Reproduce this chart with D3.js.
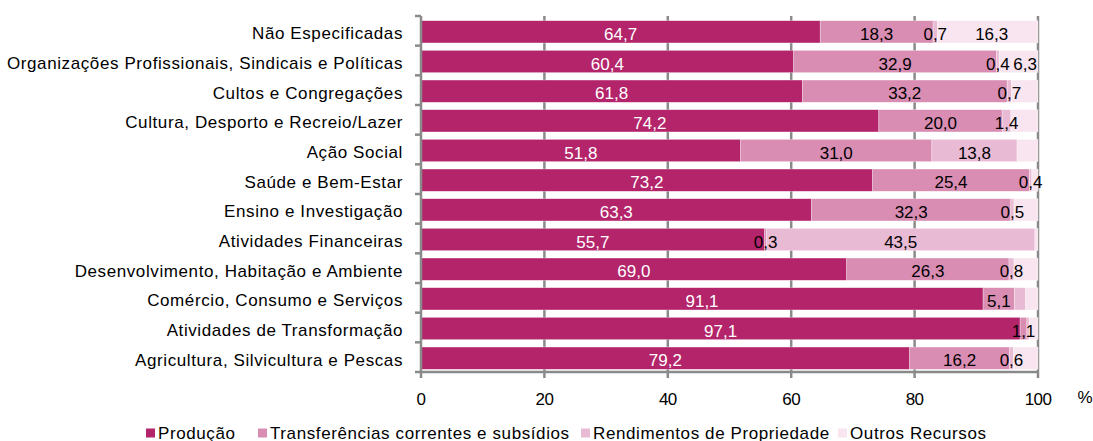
<!DOCTYPE html>
<html>
<head>
<meta charset="utf-8">
<script src="https://cdn.jsdelivr.net/npm/d3@7"></script>
<style>
  html, body { margin: 0; padding: 0; background: #fff; }
  svg { display: block; font-family: "Liberation Sans", Arial, sans-serif; }
</style>
</head>
<body>
<svg id="chart" width="1093" height="441"></svg>
<script>
const categories = [
  "Não Especificadas",
  "Organizações Profissionais, Sindicais e Políticas",
  "Cultos e Congregações",
  "Cultura, Desporto e Recreio/Lazer",
  "Ação Social",
  "Saúde e Bem-Estar",
  "Ensino e Investigação",
  "Atividades Financeiras",
  "Desenvolvimento, Habitação e Ambiente",
  "Comércio, Consumo e Serviços",
  "Atividades de Transformação",
  "Agricultura, Silvicultura e Pescas"
];
const seriesNames = ["Produção", "Transferências correntes e subsídios", "Rendimentos de Propriedade", "Outros Recursos"];
const producao       = [64.7, 60.4, 61.8, 74.2, 51.8, 73.2, 63.3, 55.7, 69.0, 91.1, 97.1, 79.2];
const transferencias = [18.3, 32.9, 33.2, 20.0, 31.0, 25.4, 32.3,  0.3, 26.3,  5.1,  1.1, 16.2];
const rendimentos    = [ 0.7,  0.4,  0.7,  1.4, 13.8,  0.4,  0.5, 43.5,  0.8,  1.8,  0.4,  0.6];
const outros         = [16.3,  6.3,  4.3,  4.4,  3.4,  1.0,  3.9,  0.5,  3.9,  2.0,  1.4,  4.0];
// which value labels are shown (others hidden as in the original)
const showProducao       = [1,1,1,1,1,1,1,1,1,1,1,1];
const showTransferencias = [1,1,1,1,1,1,1,1,1,1,1,1];
const showRendimentos    = [1,1,1,1,1,1,1,1,1,0,0,1];
const showOutros         = [1,1,0,0,0,0,0,0,0,0,0,0];
const xTicks = [0, 20, 40, 60, 80, 100];
const colors = ["#B3246B", "#D98DB3", "#E9BAD3", "#F8E5EF"];

const seriesValues = [producao, transferencias, rendimentos, outros];
const seriesShow = [showProducao, showTransferencias, showRendimentos, showOutros];
const labelColors = ["#ffffff", "#000000", "#000000", "#000000"];
// small horizontal nudges of crowded labels (series index, row index) -> px
const labelNudge = { "3-1": 6.5, "3-0": 4 };

const svg = d3.select("#chart");
const mLeft = 421, mRight = 1038, mTop = 16, mBottom = 372;
const fmt = v => v.toFixed(1).replace(".", ",");

const x = d3.scaleLinear().domain([0, 100]).range([mLeft, mRight]);
const y = d3.scaleBand().domain(categories).range([mTop + 1, mBottom + 1]).paddingInner(0.25).paddingOuter(0.125);

const axisColor = "#8a8a8a";

// gridlines
svg.append("g").selectAll("line").data(xTicks.slice(1)).join("line")
  .attr("x1", d => x(d)).attr("x2", d => x(d))
  .attr("y1", mTop).attr("y2", mBottom)
  .attr("stroke", axisColor).attr("stroke-width", 2.5);

// stacked data
const table = categories.map((c, i) => {
  const o = { cat: c, idx: i };
  seriesNames.forEach((s, k) => o[s] = seriesValues[k][i]);
  return o;
});
const stack = d3.stack().keys(seriesNames)(table);

const g = svg.append("g");
stack.forEach((layer, k) => {
  g.append("g").selectAll("rect").data(layer).join("rect")
    .attr("x", d => x(d[0]))
    .attr("width", d => Math.max(0, x(d[1]) - x(d[0])))
    .attr("y", d => y(d.data.cat))
    .attr("height", y.bandwidth())
    .attr("fill", colors[k])
    .attr("stroke", "#ffffff").attr("stroke-opacity", 0.5).attr("stroke-width", 0.6);
});
stack.forEach((layer, k) => {
  g.append("g").selectAll("text").data(layer.filter((d, i) => seriesShow[k][i])).join("text")
    .attr("x", d => x((d[0] + d[1]) / 2) + (labelNudge[k + "-" + d.data.idx] || 0))
    .attr("y", d => y(d.data.cat) + y.bandwidth() / 2 + 8)
    .attr("text-anchor", "middle")
    .attr("font-size", 17)
    .attr("fill", labelColors[k])
    .text(d => fmt(d[1] - d[0]));
});

// left axis
const yAxis = svg.append("g");
yAxis.append("line").attr("x1", mLeft).attr("x2", mLeft).attr("y1", mTop).attr("y2", mBottom)
  .attr("stroke", axisColor).attr("stroke-width", 2.5);
const bounds = d3.range(categories.length + 1).map(i => mTop + i * (mBottom - mTop) / categories.length);
yAxis.selectAll("line.tick").data(bounds).join("line").attr("class", "tick")
  .attr("x1", mLeft - 6).attr("x2", mLeft).attr("y1", d => d).attr("y2", d => d)
  .attr("stroke", axisColor).attr("stroke-width", 2.5);
yAxis.selectAll("text").data(categories).join("text")
  .attr("x", 403).attr("y", d => y(d) + y.bandwidth() / 2 + 7.5)
  .attr("text-anchor", "end").attr("font-size", 17).attr("letter-spacing", 0.6).attr("fill", "#000")
  .text(d => d);

// bottom axis
const xAxis = svg.append("g");
xAxis.append("line").attr("x1", mLeft).attr("x2", mRight).attr("y1", mBottom).attr("y2", mBottom)
  .attr("stroke", axisColor).attr("stroke-width", 2.5);
xAxis.selectAll("line.tick").data(xTicks).join("line").attr("class", "tick")
  .attr("x1", d => x(d)).attr("x2", d => x(d)).attr("y1", mBottom).attr("y2", mBottom + 6)
  .attr("stroke", axisColor).attr("stroke-width", 2.5);
xAxis.selectAll("text").data(xTicks).join("text")
  .attr("x", d => x(d)).attr("y", 405).attr("text-anchor", "middle")
  .attr("font-size", 17).attr("letter-spacing", -0.6).attr("fill", "#000").text(d => d);
svg.append("text").attr("x", 1085).attr("y", 403).attr("text-anchor", "middle")
  .attr("font-size", 17).text("%");

// legend
const legendX = [146, 258, 581, 838];
const lg = svg.append("g").selectAll("g").data(seriesNames).join("g")
  .attr("transform", (d, i) => `translate(${legendX[i]},0)`);
lg.append("rect").attr("x", 0).attr("y", 428.5).attr("width", 9).attr("height", 9)
  .attr("fill", (d, i) => colors[i]);
lg.append("text").attr("x", 12).attr("y", 438.5).attr("font-size", 17).attr("letter-spacing", 0.6).text(d => d);
</script>
</body>
</html>
